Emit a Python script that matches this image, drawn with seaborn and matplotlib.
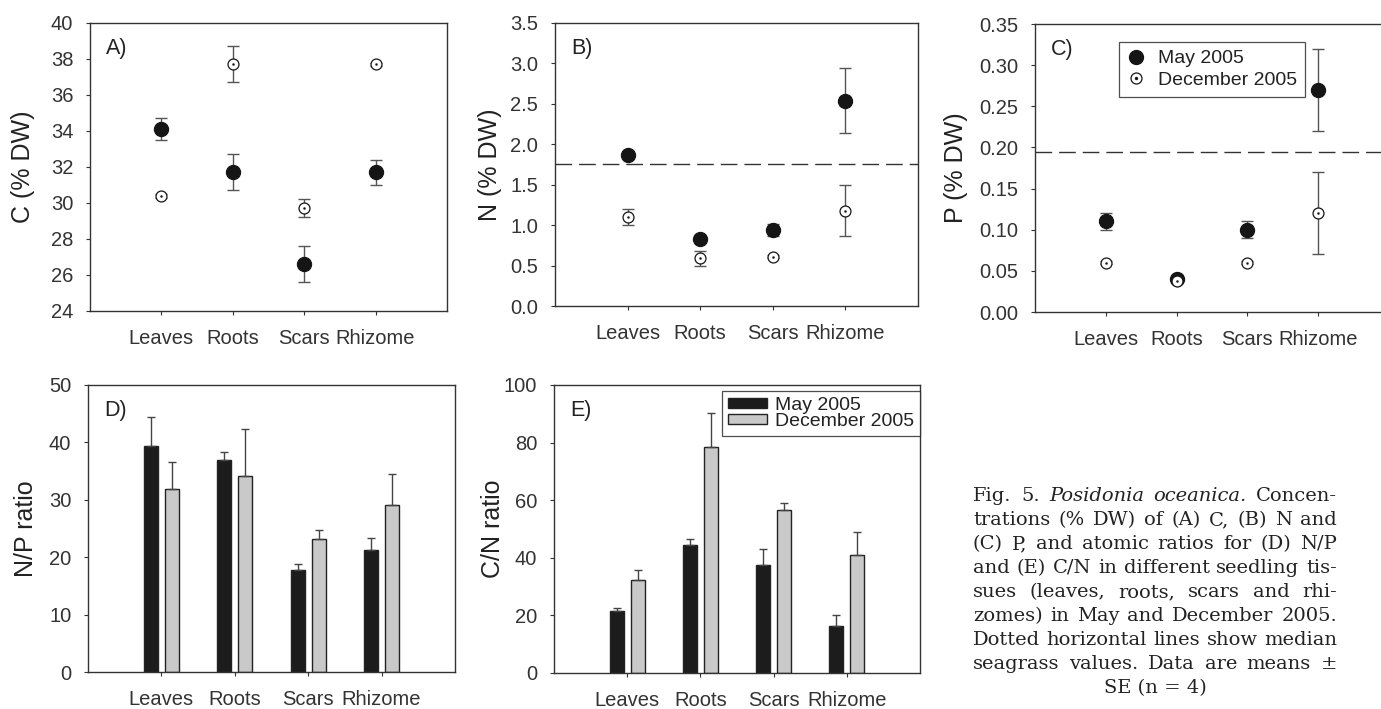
import numpy as np
import pandas as pd
import matplotlib
matplotlib.use("Agg")
import matplotlib.pyplot as plt
import seaborn as sns
from matplotlib.patches import Patch
from matplotlib.lines import Line2D
from matplotlib.ticker import FormatStrFormatter

# data (means and SE, n = 4)
tissues = ["Leaves", "Roots", "Scars", "Rhizome"]
seasons = ["May 2005", "December 2005"]

c_may = [34.1, 31.7, 26.6, 31.7]
c_may_se = [0.6, 1.0, 1.0, 0.7]
c_dec = [30.4, 37.7, 29.7, 37.7]
c_dec_se = [0.1, 1.0, 0.5, 0.1]

n_may = [1.87, 0.83, 0.94, 2.54]
n_may_se = [0.03, 0.03, 0.08, 0.40]
n_dec = [1.10, 0.59, 0.61, 1.18]
n_dec_se = [0.10, 0.09, 0.02, 0.32]
n_median = 1.76

p_may = [0.110, 0.040, 0.100, 0.270]
p_may_se = [0.010, 0.002, 0.010, 0.050]
p_dec = [0.060, 0.038, 0.060, 0.120]
p_dec_se = [0.002, 0.002, 0.002, 0.050]
p_median = 0.194

np_may = [39.4, 36.9, 17.8, 21.3]
np_may_se = [5.1, 1.4, 1.0, 2.0]
np_dec = [31.8, 34.1, 23.1, 29.1]
np_dec_se = [4.7, 8.2, 1.7, 5.4]

cn_may = [21.7, 44.4, 37.5, 16.4]
cn_may_se = [0.9, 2.0, 5.7, 3.9]
cn_dec = [32.3, 78.6, 56.5, 41.0]
cn_dec_se = [3.3, 11.8, 2.7, 7.9]

caption_lines = [
    "Fig. 5. Posidonia oceanica. Concen-",
    "trations (% DW) of (A) C, (B) N and",
    "(C) P, and atomic ratios for (D) N/P",
    "and (E) C/N in different seedling tis-",
    "sues (leaves, roots, scars and rhi-",
    "zomes) in May and December 2005.",
    "Dotted horizontal lines show median",
    "seagrass values. Data are means \u00b1",
    "SE (n = 4)",
]
italic_words = {"Posidonia", "oceanica."}

sns.set_style("ticks")
plt.rcParams["font.family"] = ["Liberation Sans", "DejaVu Sans"]
plt.rcParams["text.color"] = "#222222"
plt.rcParams["axes.labelcolor"] = "#222222"
plt.rcParams["xtick.color"] = "#333333"
plt.rcParams["ytick.color"] = "#333333"

W, H = 1381, 709
fig = plt.figure(figsize=(W / 100, H / 100), dpi=100)


def px_axes(left, top, right, bottom):
    return fig.add_axes([left / W, 1 - bottom / H, (right - left) / W, (bottom - top) / H])


def style_axes(ax, ylim, yticks, fmt, ylabel, label_x, panel):
    ax.set_xlim(-1, 4)
    ax.set_ylim(*ylim)
    ax.set_yticks(yticks)
    ax.yaxis.set_major_formatter(FormatStrFormatter(fmt))
    ax.set_xlabel("")
    ax.set_ylabel(ylabel, fontsize=18)
    ax.yaxis.set_label_coords(label_x, 0.5)
    ax.tick_params(axis="both", direction="out", length=3, width=0.8, labelsize=14.5)
    ax.tick_params(axis="y", pad=9)
    ax.tick_params(axis="x", pad=10)
    for sp in ax.spines.values():
        sp.set_visible(True)
        sp.set_color("#333333")
        sp.set_linewidth(1)
    ax.text(0.045, 0.91, panel, transform=ax.transAxes, fontsize=15.5, ha="left", va="center")


def point_panel(ax, may, may_se, dec, dec_se):
    df = pd.DataFrame({"tissue": tissues, "may": may, "dec": dec})
    ax.errorbar(tissues, may, yerr=may_se, fmt="none", ecolor="#555555",
                elinewidth=1, capsize=4, capthick=1, zorder=2)
    ax.errorbar(tissues, dec, yerr=dec_se, fmt="none", ecolor="#555555",
                elinewidth=1, capsize=4, capthick=1, zorder=2)
    sns.scatterplot(data=df, x="tissue", y="may", s=105, color="#151515",
                    edgecolor="#151515", linewidth=0.8, zorder=3, ax=ax)
    sns.scatterplot(data=df, x="tissue", y="dec", s=62, color="white",
                    edgecolor="#151515", linewidth=0.9, zorder=4, ax=ax)
    sns.scatterplot(data=df, x="tissue", y="dec", s=2, color="#151515",
                    edgecolor="#151515", linewidth=0.3, zorder=5, ax=ax)


def bar_panel(ax, may, may_se, dec, dec_se):
    df = pd.DataFrame({"tissue": tissues * 2,
                       "season": [seasons[0]] * 4 + [seasons[1]] * 4,
                       "value": may + dec})
    sns.barplot(data=df, x="tissue", y="value", hue="season", hue_order=seasons,
                palette={seasons[0]: "#1c1c1c", seasons[1]: "#c9c9c9"},
                width=0.58, gap=0.34, edgecolor="#222222", linewidth=1,
                errorbar=None, legend=False, ax=ax)
    for bar, se in zip(ax.patches, may_se + dec_se):
        xc = bar.get_x() + bar.get_width() / 2
        ax.errorbar(xc, bar.get_height(), yerr=[[0], [se]], fmt="none",
                    ecolor="#444444", elinewidth=1, capsize=3, capthick=1, zorder=3)


# A) carbon
axA = px_axes(90, 23, 447, 311)
point_panel(axA, c_may, c_may_se, c_dec, c_dec_se)
style_axes(axA, (24, 40), np.arange(24, 41, 2), "%d", "C (% DW)", -0.154, "A)")

# B) nitrogen
axB = px_axes(555, 23, 918, 306)
point_panel(axB, n_may, n_may_se, n_dec, n_dec_se)
axB.axhline(n_median, color="#333333", lw=1, ls=(0, (12, 5)), zorder=1)
style_axes(axB, (0, 3.5), np.arange(0, 3.51, 0.5), "%.1f", "N (% DW)", -0.146, "B)")

# C) phosphorus
axC = px_axes(1035, 24, 1389, 312)
point_panel(axC, p_may, p_may_se, p_dec, p_dec_se)
axC.axhline(p_median, color="#333333", lw=1, ls=(0, (12, 5)), zorder=1)
style_axes(axC, (0, 0.35), np.arange(0, 0.351, 0.05), "%.2f", "P (% DW)", -0.189, "C)")
h_may = Line2D([], [], ls="none", marker="o", ms=10, mfc="#151515", mec="#151515")
h_dec = Line2D([], [], ls="none", marker="o", ms=7.9, mfc="white", mec="#151515", mew=0.9)
h_dot = Line2D([], [], ls="none", marker="o", ms=1.4, mfc="#151515", mec="#151515")
legC = axC.legend([h_may, (h_dec, h_dot)], seasons, loc="upper left",
                  bbox_to_anchor=(0.237, 0.9375), borderaxespad=0, fontsize=14,
                  frameon=True, fancybox=False, handlelength=1.0, handletextpad=0.6,
                  labelspacing=0.2, borderpad=0.4)
legC.get_frame().set_edgecolor("#222222")
legC.get_frame().set_linewidth(0.9)

# D) N/P ratio
axD = px_axes(88, 385, 455, 672)
bar_panel(axD, np_may, np_may_se, np_dec, np_dec_se)
style_axes(axD, (0, 50), np.arange(0, 51, 10), "%d", "N/P ratio", -0.136, "D)")

# E) C/N ratio
axE = px_axes(554, 385, 920, 673)
bar_panel(axE, cn_may, cn_may_se, cn_dec, cn_dec_se)
style_axes(axE, (0, 100), np.arange(0, 101, 20), "%d", "C/N ratio", -0.134, "E)")
legE = axE.legend([Patch(facecolor="#1c1c1c", edgecolor="#222222"),
                   Patch(facecolor="#c9c9c9", edgecolor="#222222")], seasons,
                  loc="upper left", bbox_to_anchor=(0.459, 0.979), borderaxespad=0,
                  fontsize=14, frameon=True, fancybox=False, handlelength=2.0,
                  handleheight=0.45, handletextpad=0.45, labelspacing=-0.05,
                  borderpad=0.3)
legE.get_frame().set_edgecolor("#222222")
legE.get_frame().set_linewidth(0.9)

# caption, justified word by word
fig.canvas.draw()
renderer = fig.canvas.get_renderer()
x0, x1 = 973, 1337
for i, line in enumerate(caption_lines):
    yb = 1 - (501 + 24 * i) / H
    kw = dict(fontsize=14, family="DejaVu Serif", color="#222222", va="baseline")
    if i == len(caption_lines) - 1:
        fig.text((x0 + x1) / 2 / W, yb, line, ha="center", **kw)
        continue
    words = line.split(" ")
    texts = [fig.text(0, yb, w, style="italic" if w in italic_words else "normal", **kw)
             for w in words]
    widths = [t.get_window_extent(renderer).width for t in texts]
    gap = ((x1 - x0) - sum(widths)) / (len(words) - 1)
    x = x0
    for t, w in zip(texts, widths):
        t.set_x(x / W)
        x += w + gap

fig.savefig("out.png", dpi=100)
